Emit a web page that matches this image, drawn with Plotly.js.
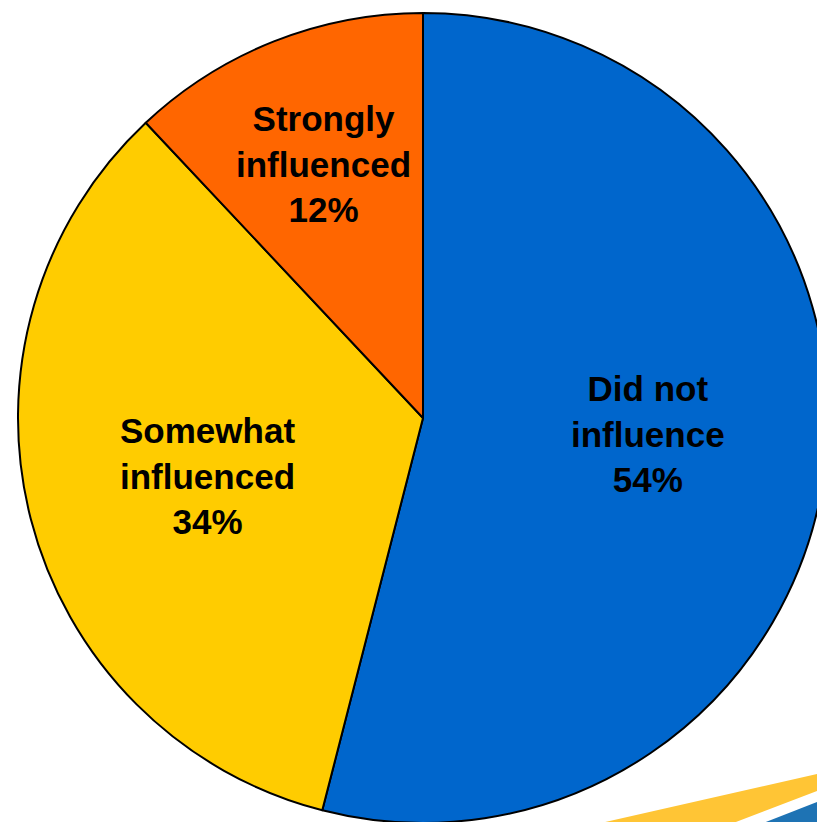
<!DOCTYPE html>
<html>
<head>
<meta charset="utf-8">
<script src="https://cdn.plot.ly/plotly-3.0.1.min.js"></script>
<style>
html, body { margin: 0; padding: 0; overflow: hidden; background: #ffffff; }
#chart { width: 850px; height: 830px; }
</style>
</head>
<body>
<div id="chart"></div>
<script>
var categories = ["Did not influence", "Somewhat influenced", "Strongly influenced"];
var displayLabels = ["Did not<br>influence", "Somewhat<br>influenced", "Strongly<br>influenced"];
var values = [54, 34, 12];
var colors = ["#0066CC", "#FFCC00", "#FF6600"];

var W = 850, H = 830;
var CX = 423, CY = 418, R = 405;           // pie centre and radius, in pixels
var labelRadius = [0.56, 0.55, 0.67];       // label distance as a fraction of the radius
var labelNudgeY = [-12, 3, -2];             // small vertical label nudges, in pixels

function px(x) { return x / W; }
function py(y) { return (H - y) / H; }

var trace = {
  type: "pie",
  labels: categories,
  values: values,
  sort: false,
  direction: "clockwise",
  rotation: 0,
  marker: { colors: colors, line: { color: "#000000", width: 2 } },
  textinfo: "none",
  hoverinfo: "label+percent",
  domain: { x: [px(CX - R), px(CX + R)], y: [py(CY + R), py(CY - R)] },
  showlegend: false
};

// label positions derived from the slice angles
var total = values.reduce(function (a, b) { return a + b; }, 0);
var annotations = [];
var cum = 0;
for (var i = 0; i < values.length; i++) {
  var mid = (cum + values[i] / 2) / total * 2 * Math.PI;
  cum += values[i];
  var r = R * labelRadius[i];
  var x = CX + r * Math.sin(mid);
  var y = CY - r * Math.cos(mid) + labelNudgeY[i];
  annotations.push({
    xref: "paper", yref: "paper",
    x: px(x), y: py(y),
    xanchor: "center", yanchor: "middle",
    showarrow: false,
    align: "center",
    text: "<b>" + displayLabels[i] + "<br>" + Math.round(values[i] / total * 100) + "%</b>",
    font: { family: "Liberation Sans, Arial, Helvetica, sans-serif", size: 35, color: "#000000" }
  });
}

function pt(x, y) { return px(x).toFixed(4) + " " + py(y).toFixed(4); }

var layout = {
  width: W,
  height: H,
  margin: { l: 0, r: 0, t: 0, b: 0 },
  paper_bgcolor: "#ffffff",
  showlegend: false,
  annotations: annotations,
  shapes: [
    { type: "path", xref: "paper", yref: "paper", layer: "below",
      path: "M " + pt(570, 830) + " L " + pt(817, 774) + " L " + pt(850, 766) + " L " + pt(850, 777) +
            " L " + pt(817, 791) + " L " + pt(715, 830) + " Z",
      fillcolor: "#FFC535", line: { width: 0 } },
    { type: "path", xref: "paper", yref: "paper", layer: "below",
      path: "M " + pt(745, 830) + " L " + pt(817, 802) + " L " + pt(850, 790) + " L " + pt(850, 830) + " Z",
      fillcolor: "#1E73B4", line: { width: 0 } }
  ]
};

Plotly.newPlot("chart", [trace], layout, { staticPlot: true, displayModeBar: false });
</script>
</body>
</html>
